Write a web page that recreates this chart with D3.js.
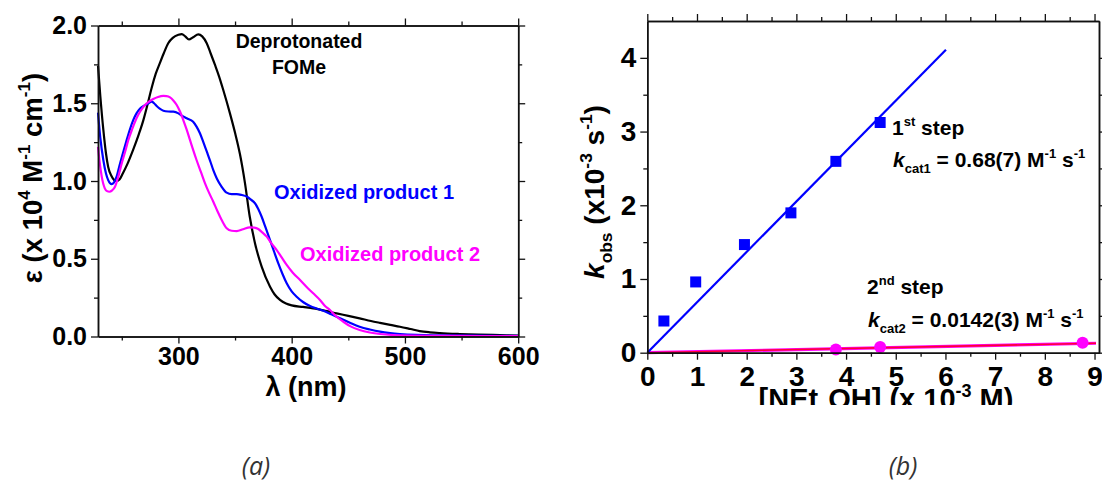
<!DOCTYPE html>
<html><head><meta charset="utf-8">
<script src="https://cdn.jsdelivr.net/npm/d3@7/dist/d3.min.js"></script>
<style>
body{margin:0;background:#fff}
svg text{font-family:"Liberation Sans",Arial,Helvetica,sans-serif;font-weight:bold}
</style></head>
<body><svg id="c" width="1102" height="490"></svg>
<script>
// ---------- Panel (a) data: [wavelength nm, epsilon x10^4] ----------
const deprotonatedFOMe = [[229,1.74],[231,1.55],[233.7,1.33],[236,1.18],[238,1.09],[241,1.03],[245,1.0],[248,1.01],[251,1.05],[255,1.11],[260,1.2],[265,1.3],[269,1.39],[273,1.5],[276.4,1.6],[280,1.69],[283.7,1.76],[287,1.82],[291,1.886],[295,1.92],[300,1.94],[303,1.945],[306,1.93],[309.3,1.91],[313,1.925],[317.6,1.943],[321,1.93],[325,1.886],[328.5,1.82],[332.3,1.746],[336,1.67],[339.6,1.585],[345.5,1.435],[350,1.31],[354.4,1.17],[358.8,0.985],[363,0.77],[367.6,0.6],[373.5,0.449],[380.9,0.32],[385,0.27],[389.7,0.235],[395,0.212],[400,0.2],[410,0.19],[419,0.181],[430,0.165],[439.7,0.149],[450,0.133],[460,0.117],[470,0.1],[478,0.088],[487,0.075],[495.6,0.063],[505,0.048],[513,0.035],[522,0.027],[531,0.022],[548,0.016],[565,0.012],[584,0.009],[600,0.006]];
const oxidizedProduct1 = [[229,1.44],[231,1.28],[233.7,1.135],[236,1.05],[238,1.006],[241,0.98],[243,0.99],[245.5,1.03],[248,1.1],[251,1.178],[254,1.255],[257,1.328],[260,1.39],[263,1.435],[266,1.465],[269,1.482],[273,1.497],[276.4,1.51],[278.5,1.5],[280.8,1.482],[283.5,1.465],[286.7,1.452],[291,1.447],[295.5,1.446],[300,1.435],[303,1.42],[307.3,1.403],[313,1.381],[316,1.35],[319,1.307],[322,1.25],[325,1.19],[328,1.13],[330.8,1.07],[334,1.015],[338.2,0.963],[342.6,0.925],[347,0.915],[351.5,0.916],[356,0.91],[360.3,0.9],[364,0.88],[367.6,0.857],[370.5,0.82],[373.5,0.77],[377,0.7],[380.9,0.62],[384.5,0.545],[388.2,0.47],[392,0.4],[395.6,0.342],[400,0.29],[404.4,0.256],[410,0.222],[416.2,0.196],[422,0.18],[428,0.166],[435,0.143],[442.7,0.117],[451,0.09],[460,0.063],[469,0.045],[478,0.031],[487,0.022],[495.6,0.016],[510,0.01],[530,0.007],[560,0.005],[600,0.004]];
const oxidizedProduct2 = [[229,1.22],[230.5,1.12],[232.3,1.028],[235,0.953],[237,0.935],[239,0.931],[241.5,0.94],[244,0.963],[247,1.03],[250,1.114],[253,1.19],[255.8,1.264],[259,1.33],[263,1.403],[266.5,1.45],[270.5,1.489],[274,1.51],[277.8,1.527],[282,1.54],[286.7,1.547],[289.5,1.546],[292.6,1.538],[295.5,1.518],[298.5,1.489],[301.5,1.445],[304.3,1.392],[307.3,1.33],[310.2,1.264],[313,1.2],[316,1.135],[320,1.055],[323.5,0.985],[327,0.925],[330.8,0.867],[334.5,0.805],[338.2,0.749],[342.6,0.696],[347,0.68],[351.5,0.678],[357,0.69],[363,0.702],[367,0.7],[370.5,0.691],[374,0.67],[378,0.642],[382,0.6],[386.8,0.556],[391,0.51],[395.6,0.46],[401,0.41],[407.4,0.363],[413,0.32],[419,0.278],[425,0.235],[429,0.2],[433.8,0.17],[439,0.132],[445.6,0.095],[452,0.065],[460,0.042],[469,0.026],[478,0.016],[490,0.009],[505,0.006],[540,0.004],[600,0.003]];
const aXTicks = [300,400,500,600];
const aXMinor = [250,350,450,550];
const aYTicks = [0,0.5,1.0,1.5,2.0];
const aYMinor = [0.25,0.75,1.25,1.75];

// ---------- Panel (b) data ----------
const step1Conc = [0.334,0.974,1.955,2.89,3.795,4.686];
const step1Kobs = [0.43,0.96,1.467,1.897,2.596,3.123];
const step2Conc = [3.795,4.686,8.76];
const step2Kobs = [0.045,0.077,0.136];
const kcat1 = 0.684, kcat2 = 0.0142;
const fit1Range = [0,6.01];
const fit2Range = [0,9.03];
const bXTicks = [0,1,2,3,4,5,6,7,8,9];
const bXMinor = [0.5,1.5,2.5,3.5,4.5,5.5,6.5,7.5,8.5];
const bYTicks = [0,1,2,3,4];
const bYMinor = [0.5,1.5,2.5,3.5];

const svg = d3.select("#c");
const BLUE="#0000ff", MAG="#ff00ff", RED="#ff0033";

function richText(g, x, y, list, size, opts={}){
  const txt = g.append("text").attr("x",x).attr("y",y).attr("font-size",size);
  if(opts.anchor) txt.attr("text-anchor",opts.anchor);
  if(opts.fill) txt.attr("fill",opts.fill);
  if(opts.transform) txt.attr("transform",opts.transform);
  let offset = 0;
  list.forEach(([t,k,i])=>{
    const ts = txt.append("tspan").text(t);
    let target = 0, fs = size;
    if(k==="sup"){ target = -size*0.42; fs = size*0.62; }
    else if(k==="sub"){ target = size*0.30; fs = size*0.62; }
    ts.attr("font-size",fs).attr("dy", target-offset);
    offset = target;
    if(i) ts.attr("font-style","italic");
  });
  return txt;
}

function drawAxes(x, y, xt, xm, yt, ym, fx, fy, fs, padX, padY){
  const g = svg.append("g");
  const y0 = y.range()[0], y1 = y.range()[1], x0 = x.range()[0], x1 = x.range()[1];
  const specs = [
    [d3.axisBottom(x).tickValues(xt).tickFormat(fx).tickPadding(padX), `translate(0,${y0})`],
    [d3.axisTop(x).tickValues(xt).tickFormat(""), `translate(0,${y1})`],
    [d3.axisLeft(y).tickValues(yt).tickFormat(fy).tickPadding(padY), `translate(${x0},0)`],
    [d3.axisRight(y).tickValues(yt).tickFormat(""), `translate(${x1},0)`]
  ];
  specs.forEach(([a,t])=>{
    g.append("g").attr("transform",t).call(a.tickSize(7).tickSizeOuter(0));
  });
  const minors = [
    [d3.axisBottom(x).tickValues(xm), `translate(0,${y0})`],
    [d3.axisTop(x).tickValues(xm), `translate(0,${y1})`],
    [d3.axisLeft(y).tickValues(ym), `translate(${x0},0)`],
    [d3.axisRight(y).tickValues(ym), `translate(${x1},0)`]
  ];
  minors.forEach(([a,t])=>{
    g.append("g").attr("transform",t).call(a.tickFormat("").tickSize(4).tickSizeOuter(0));
  });
  g.selectAll("path.domain").attr("stroke","#111").attr("stroke-width",1.5);
  g.selectAll(".tick line").attr("stroke","#111").attr("stroke-width",1.3);
  g.selectAll(".tick text").attr("font-family",'"Liberation Sans",Arial,sans-serif').attr("font-weight","bold").attr("font-size",fs).attr("fill","#000");
  return g;
}

// ================= Panel (a) =================
const ax = d3.scaleLinear().domain([229,600]).range([98,518.2]);
const ay = d3.scaleLinear().domain([0,2]).range([336.5,25.5]);
const lineA = d3.line().x(d=>ax(d[0])).y(d=>ay(d[1])).curve(d3.curveMonotoneX);
const gA = svg.append("g");
[[deprotonatedFOMe,"#000"],[oxidizedProduct1,BLUE],[oxidizedProduct2,MAG]].forEach(([d,c])=>{
  gA.append("path").datum(d).attr("d",lineA).attr("fill","none").attr("stroke",c).attr("stroke-width",2.2).attr("stroke-linejoin","round");
});
drawAxes(ax, ay, aXTicks, aXMinor, aYTicks, aYMinor, d3.format("d"), d3.format(".1f"), 25, 4, 4);

gA.append("text").attr("x",299).attr("y",48).attr("text-anchor","middle").attr("font-size",19.5).text("Deprotonated");
gA.append("text").attr("x",299).attr("y",74).attr("text-anchor","middle").attr("font-size",19.5).text("FOMe");
gA.append("text").attr("x",274).attr("y",199).attr("font-size",20).attr("fill",BLUE).text("Oxidized product 1");
gA.append("text").attr("x",300).attr("y",261).attr("font-size",20).attr("fill",MAG).text("Oxidized product 2");
gA.append("text").attr("x",306).attr("y",396).attr("text-anchor","middle").attr("font-size",27).text("λ (nm)");
richText(gA, 0, 0, [["ε (x 10",null],["4","sup"],[" M",null],["-1","sup"],[" cm",null],["-1","sup"],[")",null]], 27.5,
  {anchor:"middle", transform:"translate(42,178) rotate(-90)"});

// ================= Panel (b) =================
const bx = d3.scaleLinear().domain([0,9.09]).range([647.3,1099]);
const by = d3.scaleLinear().domain([0,4.5]).range([352.7,21]);
const gB = svg.append("g");
const lineB = d3.line().x(d=>bx(d[0])).y(d=>by(d[1]));
gB.append("path").datum(fit2Range.map(c=>[c,kcat2*c])).attr("d",lineB).attr("stroke",MAG).attr("stroke-width",3.2).attr("fill","none");
gB.append("path").datum(fit2Range.map(c=>[c,kcat2*c])).attr("d",lineB).attr("stroke",RED).attr("stroke-width",1.6).attr("fill","none");
gB.append("path").datum(fit1Range.map(c=>[c,kcat1*c])).attr("d",lineB).attr("stroke",BLUE).attr("stroke-width",2.2).attr("fill","none");
const sq = 11;
gB.selectAll("rect.s1").data(d3.zip(step1Conc,step1Kobs)).enter().append("rect")
  .attr("x",d=>bx(d[0])-sq/2).attr("y",d=>by(d[1])-sq/2).attr("width",sq).attr("height",sq).attr("fill",BLUE);
gB.selectAll("circle.s2").data(d3.zip(step2Conc,step2Kobs)).enter().append("circle")
  .attr("cx",d=>bx(d[0])).attr("cy",d=>by(d[1])).attr("r",6).attr("fill",MAG);
drawAxes(bx, by, bXTicks, bXMinor, bYTicks, bYMinor, d3.format("d"), d3.format("d"), 28, 6, 4);

richText(gB, 892, 135, [["1",null],["st","sup"],[" step",null]], 21);
richText(gB, 893, 167, [["k",null,true],["cat1","sub"],[" = 0.68(7) M",null],["-1","sup"],[" s",null],["-1","sup"]], 21);
richText(gB, 867, 294, [["2",null],["nd","sup"],[" step",null]], 21);
richText(gB, 868, 327, [["k",null,true],["cat2","sub"],[" = 0.0142(3) M",null],["-1","sup"],[" s",null],["-1","sup"]], 21);
richText(gB, 0, 0, [["k",null,true],["obs","sub"],[" (x10",null],["-3","sup"],[" s",null],["-1","sup"],[")",null]], 28,
  {anchor:"middle", transform:"translate(604,192) rotate(-90)"});

svg.append("clipPath").attr("id","clipb").append("rect").attr("x",600).attr("y",370).attr("width",500).attr("height",35);
const xl = svg.append("g").attr("clip-path","url(#clipb)");
richText(xl, 886, 409, [["[NEt",null],["4","sub"],["OH] (x 10",null],["-3","sup"],[" M)",null]], 29, {anchor:"middle"});

// captions
svg.append("text").attr("x",256).attr("y",475).attr("text-anchor","middle").attr("font-size",25)
  .attr("font-style","italic").style("font-family",'"Open Sans",sans-serif').style("font-weight","normal").attr("fill","#333").text("(a)");
svg.append("text").attr("x",903).attr("y",475).attr("text-anchor","middle").attr("font-size",25)
  .attr("font-style","italic").style("font-family",'"Open Sans",sans-serif').style("font-weight","normal").attr("fill","#333").text("(b)");
</script></body></html>
